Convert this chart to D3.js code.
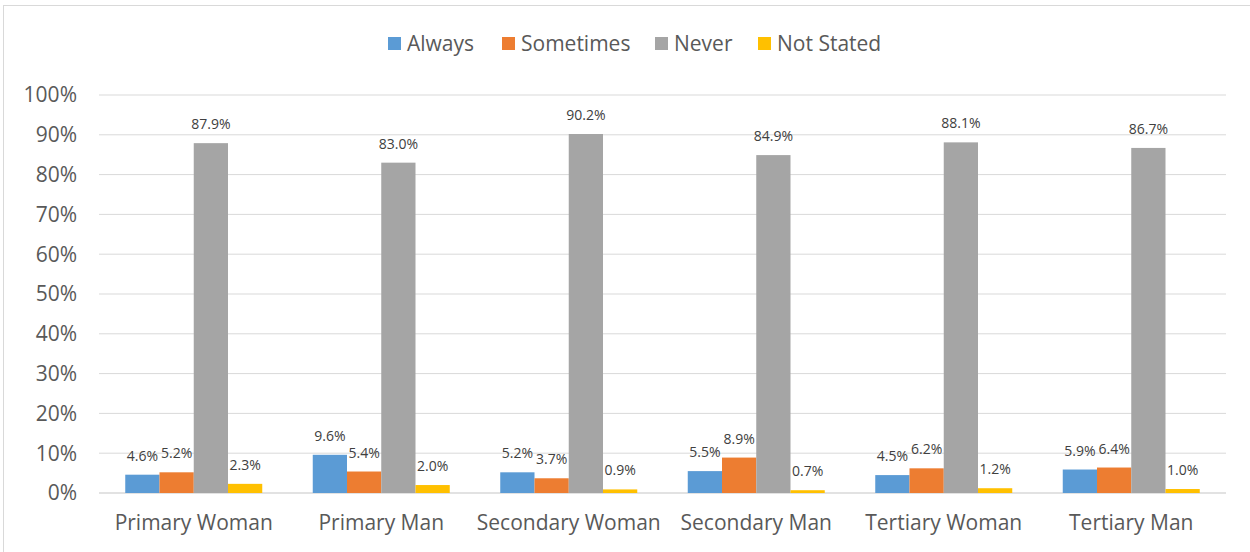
<!DOCTYPE html>
<html><head><meta charset="utf-8">
<script src="https://cdn.jsdelivr.net/npm/d3@7"></script>
<style>body{margin:0;background:#fff;}svg{display:block;}</style>
</head><body>
<svg id="c" width="1250" height="552"></svg>
<script>
const categories = ["Primary Woman","Primary Man","Secondary Woman","Secondary Man","Tertiary Woman","Tertiary Man"];
const seriesNames = ["Always","Sometimes","Never","Not Stated"];
const always = [4.6, 9.6, 5.2, 5.5, 4.5, 5.9];
const sometimes = [5.2, 5.4, 3.7, 8.9, 6.2, 6.4];
const never = [87.9, 83.0, 90.2, 84.9, 88.1, 86.7];
const notStated = [2.3, 2.0, 0.9, 0.7, 1.2, 1.0];
const yTicks = [0,10,20,30,40,50,60,70,80,90,100];
const colors = ["#5B9BD5","#ED7D31","#A5A5A5","#FFC000"];
const series = [always, sometimes, never, notStated];

const svg = d3.select("#c");
const font = "'Open Sans', sans-serif";
// outer border
svg.append("rect").attr("x",3.5).attr("y",5.5).attr("width",1260).attr("height",560)
  .attr("fill","none").attr("stroke","#d9d9d9").attr("stroke-width",1);

const x0 = d3.scaleBand().domain(categories).range([100,1225]).paddingInner(0).paddingOuter(0);
const y = d3.scaleLinear().domain([0,100]).range([493,95]);
const groupW = 137;
const x1 = d3.scaleBand().domain(d3.range(4)).range([0,groupW]).padding(0);

// gridlines
svg.append("g").selectAll("line").data(yTicks).join("line")
  .attr("x1",99).attr("x2",1226).attr("y1",d=>y(d)).attr("y2",d=>y(d))
  .attr("stroke","#d9d9d9").attr("stroke-width",d=>d===0?1.5:1);

// y labels
svg.append("g").selectAll("text").data(yTicks).join("text")
  .attr("x",77).attr("y",d=>y(d)).attr("dy","0.35em").attr("text-anchor","end")
  .attr("font-family",font).attr("font-size",21).attr("fill","#595959")
  .text(d=>d+"%");

// bars
categories.forEach((c,ci)=>{
  const gx = x0(c) + (x0.bandwidth()-groupW)/2;
  series.forEach((s,si)=>{
    const v = s[ci];
    svg.append("rect").attr("x",gx+x1(si)).attr("y",y(v)).attr("width",x1.bandwidth())
      .attr("height",y(0)-y(v)).attr("fill",colors[si]);
    svg.append("text").attr("x",gx+x1(si)+x1.bandwidth()/2).attr("y",y(v)-14)
      .attr("text-anchor","middle").attr("font-family",font).attr("font-size",14)
      .attr("fill","#404040").text(v.toFixed(1)+"%");
  });
});

// x labels
svg.append("g").selectAll("text").data(categories).join("text")
  .attr("x",d=>x0(d)+x0.bandwidth()/2).attr("y",523).attr("dy","0.35em")
  .attr("text-anchor","middle").attr("font-family",font).attr("font-size",21)
  .attr("fill","#595959").text(d=>d);

// legend
const legX = [388, 502, 655, 758];
const lg = svg.append("g");
seriesNames.forEach((n,i)=>{
  lg.append("rect").attr("x",legX[i]).attr("y",37).attr("width",13).attr("height",13).attr("fill",colors[i]);
  lg.append("text").attr("x",legX[i]+19).attr("y",43.5).attr("dy","0.35em")
    .attr("font-family",font).attr("font-size",21).attr("fill","#595959").text(n);
});
</script>
</body></html>
